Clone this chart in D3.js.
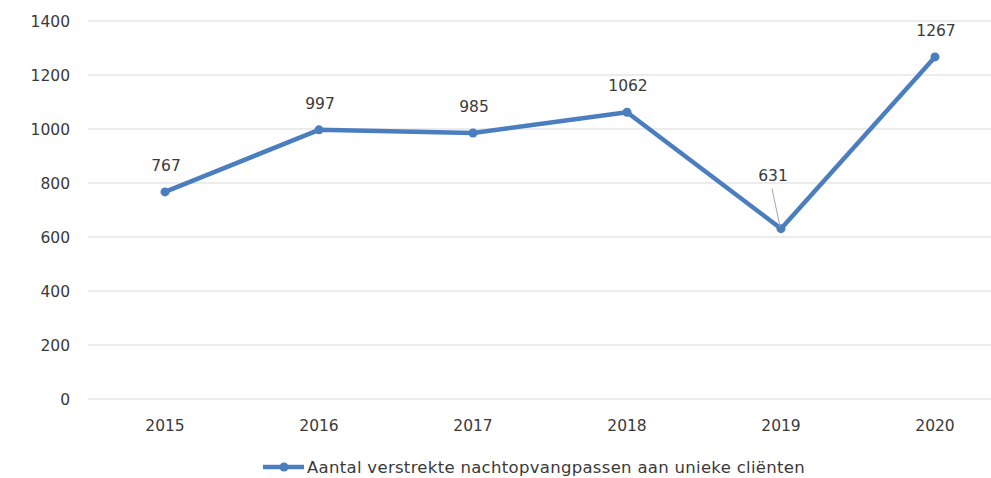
<!DOCTYPE html>
<html>
<head>
<meta charset="utf-8">
<script src="https://cdn.jsdelivr.net/npm/d3@7"></script>
<style>
  body { margin: 0; background: #fff; }
  svg { display: block; font-family: "DejaVu Sans", sans-serif; }
</style>
</head>
<body>
<svg id="chart" width="991" height="478"></svg>
<script>
// data
var years = ['2015', '2016', '2017', '2018', '2019', '2020'];
var passen = [767, 997, 985, 1062, 631, 1267];
var yTicks = [0, 200, 400, 600, 800, 1000, 1200, 1400];
var seriesName = 'Aantal verstrekte nachtopvangpassen aan unieke cliënten';

var blue = '#4a7ebf';
var textColor = '#3a3a3a';

var svg = d3.select('#chart');

var x = d3.scalePoint()
    .domain(years)
    .range([88, 1012])
    .padding(0.5);

var y = d3.scaleLinear()
    .domain([0, 1400])
    .range([399, 21]);

// gridlines
svg.append('g')
    .selectAll('line')
    .data(yTicks)
    .enter().append('line')
    .attr('x1', 88)
    .attr('x2', 991)
    .attr('y1', function (d) { return y(d); })
    .attr('y2', function (d) { return y(d); })
    .attr('stroke', '#d9d9d9')
    .attr('stroke-width', 1);

// y axis labels
svg.append('g')
    .selectAll('text')
    .data(yTicks)
    .enter().append('text')
    .attr('x', 70)
    .attr('y', function (d) { return y(d); })
    .attr('dy', '0.36em')
    .attr('text-anchor', 'end')
    .attr('font-size', 15.5)
    .attr('fill', textColor)
    .text(function (d) { return d; });

// x axis labels
svg.append('g')
    .selectAll('text')
    .data(years)
    .enter().append('text')
    .attr('x', function (d) { return x(d); })
    .attr('y', 431)
    .attr('text-anchor', 'middle')
    .attr('font-size', 15.5)
    .attr('fill', textColor)
    .text(function (d) { return d; });

var points = years.map(function (yr, i) { return { year: yr, value: passen[i] }; });

// line
svg.append('path')
    .datum(points)
    .attr('fill', 'none')
    .attr('stroke', blue)
    .attr('stroke-width', 4.5)
    .attr('stroke-linejoin', 'round')
    .attr('d', d3.line()
        .x(function (d) { return x(d.year); })
        .y(function (d) { return y(d.value); }));

// markers
svg.append('g')
    .selectAll('circle')
    .data(points)
    .enter().append('circle')
    .attr('cx', function (d) { return x(d.year); })
    .attr('cy', function (d) { return y(d.value); })
    .attr('r', 4.5)
    .attr('fill', blue);

// leader line for the 2019 label
svg.append('line')
    .attr('x1', x('2019') - 9)
    .attr('y1', y(631) - 40)
    .attr('x2', x('2019') - 1)
    .attr('y2', y(631) - 2)
    .attr('stroke', '#a6a6a6')
    .attr('stroke-width', 1);

// data labels
svg.append('g')
    .selectAll('text')
    .data(points)
    .enter().append('text')
    .attr('x', function (d) { return d.year === '2019' ? x(d.year) - 8 : x(d.year) + 1; })
    .attr('y', function (d) { return d.year === '2019' ? y(d.value) - 48 : y(d.value) - 21; })
    .attr('text-anchor', 'middle')
    .attr('font-size', 15.5)
    .attr('fill', textColor)
    .text(function (d) { return d.value; });

// legend
var legend = svg.append('g');
legend.append('line')
    .attr('x1', 263)
    .attr('x2', 304)
    .attr('y1', 467)
    .attr('y2', 467)
    .attr('stroke', blue)
    .attr('stroke-width', 4.5);
legend.append('circle')
    .attr('cx', 284)
    .attr('cy', 467)
    .attr('r', 4.5)
    .attr('fill', blue);
legend.append('text')
    .attr('x', 307)
    .attr('y', 473)
    .attr('font-size', 16.5)
    .attr('letter-spacing', 0.3)
    .attr('fill', textColor)
    .text(seriesName);
</script>
</body>
</html>
